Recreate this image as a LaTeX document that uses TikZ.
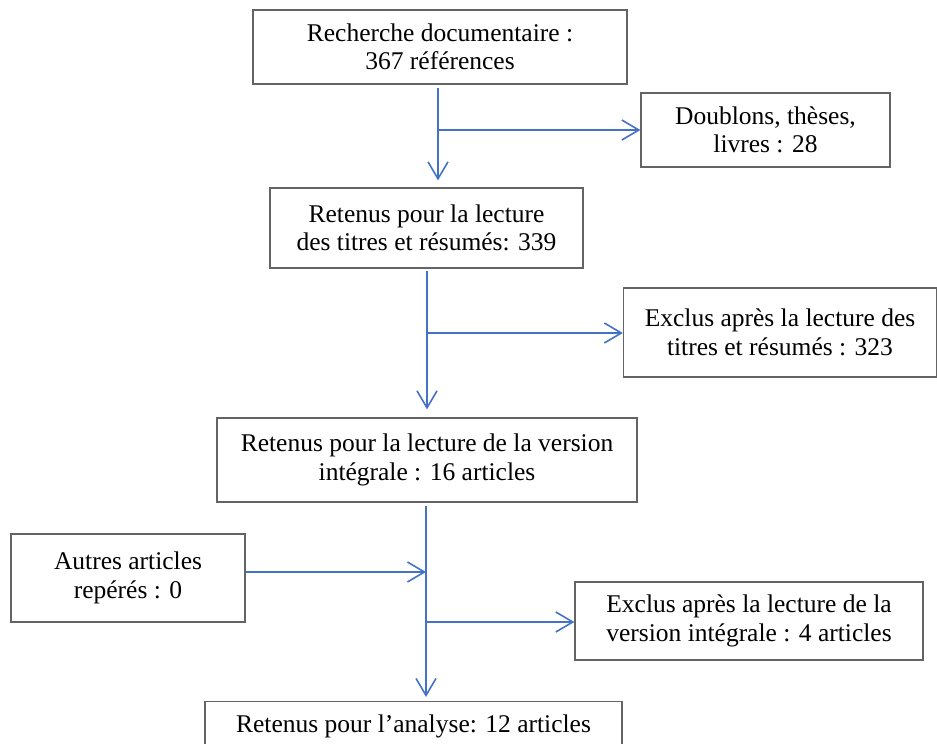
\documentclass[tikz,border=0pt]{standalone}
\usepackage{fontspec}
\setmainfont{Liberation Serif}
\usetikzlibrary{arrows.meta}

\definecolor{flowblue}{RGB}{68,114,196}
\definecolor{boxgray}{RGB}{100,100,100}

\tikzset{
  etape/.style={draw=boxgray, line width=1.2pt, align=center, inner sep=0pt,
    font=\fontsize{25.5}{28.5}\selectfont},
  fleche/.style={draw=flowblue, line width=1.6pt,
    -{Straight Barb[length=17pt,width=20pt,line width=1.6pt]}}
}

\begin{document}
\begin{tikzpicture}[x=1pt,y=-1pt]
			\useasboundingbox (0,0) rectangle (937,744);
			
			% boxes
			\node [etape, minimum width=374, minimum height=74] (recherche) at (440,47) {Recherche documentaire :\\367 références};
			\node [etape, minimum width=249, minimum height=74] (doublons) at (765.5,130) {Doublons, thèses,\\livres : 28};
			\node [etape, minimum width=313, minimum height=80] (titres) at (426.5,228) {Retenus pour la lecture\\des titres et résumés: 339};
			\node [etape, minimum width=313, minimum height=89] (exclus1) at (780,332.5) {Exclus après la lecture des\\titres et résumés : 323};
			\node [etape, minimum width=420, minimum height=84] (version) at (427,460) {Retenus pour la lecture de la version\\intégrale : 16 articles};
			\node [etape, minimum width=234, minimum height=88] (autres) at (128,578) {Autres articles\\repérés : 0};
			\node [etape, minimum width=348, minimum height=78] (exclus2) at (749,621) {Exclus après la lecture de la\\version intégrale : 4 articles};
			\node [etape, minimum width=417, minimum height=56, anchor=north] (analyse) at (413.5,701) {};
			\node [font=\fontsize{25.5}{28.5}\selectfont] (analysetxt) at (413.5,726) {Retenus pour l’analyse: 12 articles};
			
			% branch points
			\coordinate (b1) at (438,130);
			\coordinate (b2) at (427,333);
			\coordinate (b3) at (426,572);
			\coordinate (b4) at (426,622);
			
			% arrows
			\draw [fleche, shorten >=7pt] (recherche.south -| b1) ++(0,3) -- (titres.north -| b1);
			\draw [fleche] (b1) -- (doublons.west);
			
			\draw [fleche, shorten >=8pt] (titres.south -| b2) ++(0,2) -- (version.north -| b2);
			\draw [fleche] (b2) -- (exclus1.west |- b2);
			
			\draw [fleche, shorten >=4pt] (version.south -| b3) ++(0,3) -- (analyse.north -| b3);
			\draw [fleche] (autres.east |- b3) -- (b3);
			\draw [fleche] (b4) -- (exclus2.west |- b4);
\end{tikzpicture}
\end{document}
